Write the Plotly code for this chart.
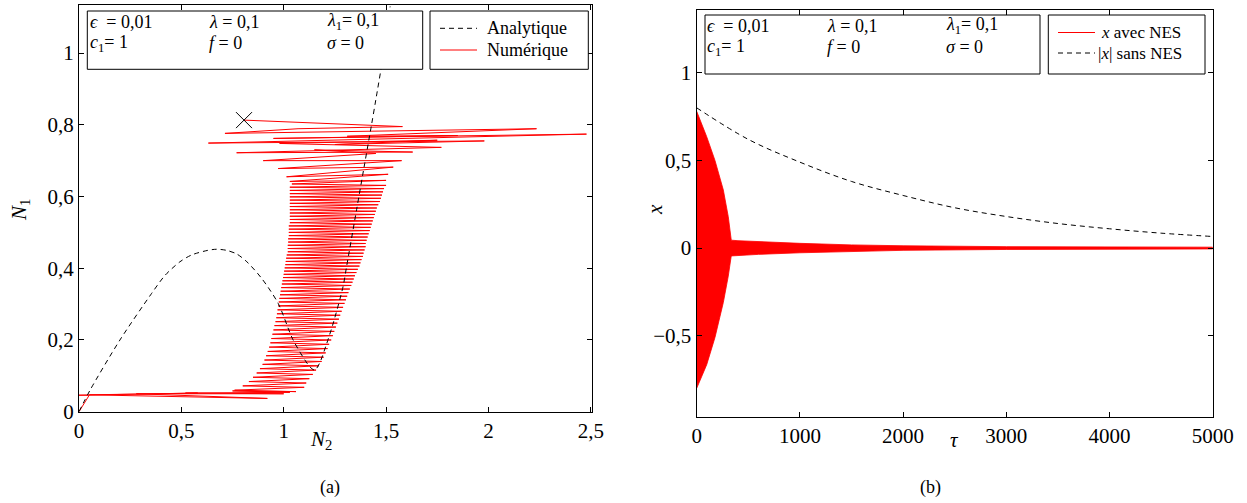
import plotly.graph_objects as go

W, H = 1247, 503
FONT = "'Liberation Serif', 'Times New Roman', serif"

# ---------------- data: panel (a) ----------------
n2_ana = [0.0, 0.054, 0.2, 0.355, 0.42, 0.493, 0.55, 0.63, 0.672, 0.72, 0.77, 0.82,
          0.892, 0.973, 1.046, 1.128, 1.152, 1.175, 1.21, 1.242, 1.29, 1.307, 1.356,
          1.396, 1.429, 1.45, 1.484, 1.52]
n1_ana = [0.0, 0.06, 0.2, 0.33, 0.38, 0.418, 0.437, 0.45, 0.453, 0.45, 0.44, 0.418,
          0.372, 0.302, 0.2, 0.125, 0.116, 0.135, 0.19, 0.247, 0.349, 0.404, 0.563,
          0.693, 0.8, 0.87, 0.986, 1.13]

n2_num = [0.806, 1.58, 1.07, 0.713, 2.235, 1.31, 1.85, 0.95, 2.479, 0.632, 1.98, 1.25,
          1.75, 0.98, 1.77, 0.77, 1.63, 1.15, 1.45, 0.90, 1.576, 0.973, 1.535, 1.014,
          1.51, 1.03, 1.50,
          1.04, 1.50, 1.03, 1.49, 1.03, 1.485, 1.03, 1.48, 1.03, 1.475, 1.03, 1.47,
          1.03, 1.462, 1.03, 1.455, 1.03, 1.45, 1.03, 1.445, 1.03, 1.44, 1.03, 1.435,
          1.03, 1.43, 1.025, 1.425, 1.025, 1.42, 1.025, 1.415, 1.025, 1.41, 1.022, 1.405,
          1.022, 1.40, 1.02, 1.40, 1.02, 1.395, 1.02, 1.39, 1.015, 1.387, 1.012, 1.38,
          1.01, 1.375, 1.008, 1.37, 1.005, 1.362, 1.002, 1.355, 1.0, 1.348, 0.997, 1.342,
          0.994, 1.336, 0.991, 1.33, 0.988, 1.323, 0.985, 1.316, 0.982, 1.31, 0.979, 1.304,
          0.976, 1.297, 0.973, 1.29, 0.97, 1.283, 0.967, 1.276, 0.964, 1.27, 0.96, 1.262,
          0.955, 1.255, 0.95, 1.247, 0.945, 1.24, 0.94, 1.232, 0.935, 1.222, 0.929, 1.214,
          0.922, 1.205, 0.914, 1.195, 0.906, 1.185, 0.897, 1.172, 0.884, 1.158, 0.868, 1.142,
          0.85, 1.125, 0.83, 1.11, 0.80, 1.10, 0.76, 1.06,
          0.75, 1.03, 0.52, 1.00, 0.28, 0.92, 0.05, 0.58, 0.0, 0.05, 0.0]
n1_num = [0.813, 0.795, 0.789, 0.776, 0.789, 0.768, 0.770, 0.762, 0.774, 0.749, 0.755, 0.745,
          0.757, 0.748, 0.737, 0.722, 0.724, 0.730, 0.720, 0.700, 0.700, 0.678, 0.682, 0.655,
          0.662, 0.642, 0.645,
          0.635, 0.631, 0.626, 0.622, 0.617, 0.613, 0.608, 0.604, 0.599, 0.595, 0.590, 0.586,
          0.581, 0.577, 0.572, 0.568, 0.563, 0.559, 0.554, 0.550, 0.545, 0.541, 0.536, 0.532,
          0.527, 0.523, 0.518, 0.514, 0.509, 0.505, 0.500, 0.496, 0.491, 0.487, 0.482, 0.478,
          0.473, 0.469, 0.464, 0.460, 0.455, 0.451, 0.446, 0.442, 0.437, 0.433, 0.428, 0.424,
          0.419, 0.415, 0.410, 0.406, 0.401, 0.397, 0.392, 0.388, 0.383, 0.379, 0.374, 0.370,
          0.365, 0.361, 0.356, 0.352, 0.346, 0.342, 0.336, 0.332, 0.326, 0.322, 0.316, 0.312,
          0.306, 0.302, 0.295, 0.291, 0.284, 0.280, 0.273, 0.269, 0.262, 0.258, 0.251, 0.247,
          0.240, 0.236, 0.228, 0.224, 0.216, 0.212, 0.204, 0.200, 0.192, 0.188, 0.180, 0.176,
          0.168, 0.164, 0.156, 0.152, 0.144, 0.140, 0.132, 0.128, 0.120, 0.116, 0.108, 0.104,
          0.096, 0.092, 0.084, 0.080, 0.072, 0.068, 0.060, 0.056,
          0.058, 0.054, 0.052, 0.050, 0.050, 0.037, 0.047, 0.052, 0.046, 0.046, 0.0]

n2_start = [0.806]
n1_start = [0.813]

# ---------------- data: panel (b) ----------------
tau_env = [0, 97, 177, 258, 306, 329, 335, 400, 600, 1000, 1500, 2000, 3000, 4000, 5000]
x_upper = [0.78, 0.635, 0.50, 0.331, 0.179, 0.065, 0.045, 0.042, 0.036, 0.027, 0.018,
           0.013, 0.008, 0.006, 0.005]
x_lower = [-0.80, -0.665, -0.51, -0.31, -0.16, -0.068, -0.045, -0.042, -0.036, -0.027,
           -0.018, -0.013, -0.008, -0.006, -0.005]

tau_free = [0, 500, 1000, 1500, 2000, 2500, 3000, 3500, 4000, 4500, 5000]
x_free = [0.80, 0.62, 0.49, 0.38, 0.30, 0.23, 0.18, 0.14, 0.11, 0.085, 0.066]

ticks_a_x = [0, 0.5, 1, 1.5, 2, 2.5]
ticks_a_x_txt = ["0", "0,5", "1", "1,5", "2", "2,5"]
ticks_a_y = [0, 0.2, 0.4, 0.6, 0.8, 1]
ticks_a_y_txt = ["0", "0,2", "0,4", "0,6", "0,8", "1"]
ticks_b_x = [0, 1000, 2000, 3000, 4000, 5000]
ticks_b_x_txt = ["0", "1000", "2000", "3000", "4000", "5000"]
ticks_b_y = [-0.5, 0, 0.5, 1]
ticks_b_y_txt = ["\u22120,5", "0", "0,5", "1"]


def fx(p):
    return p / W


def fy(p):
    return 1 - p / H


fig = go.Figure()

fig.add_trace(go.Scatter(x=n2_num, y=n1_num, mode="lines", name="Numérique",
                         line=dict(color="red", width=1),
                         xaxis="x", yaxis="y", showlegend=False))
fig.add_trace(go.Scatter(x=n2_ana, y=n1_ana, mode="lines", name="Analytique",
                         line=dict(color="black", width=1, dash="5px,4px",
                                   shape="spline", smoothing=0.8),
                         xaxis="x", yaxis="y", showlegend=False))
fig.add_trace(go.Scatter(x=n2_start, y=n1_start, mode="markers",
                         marker=dict(symbol="x-thin-open", size=16, color="black",
                                     line=dict(color="black", width=1)),
                         xaxis="x", yaxis="y", showlegend=False))

fig.add_trace(go.Scatter(x=tau_env + tau_env[::-1], y=x_upper + x_lower[::-1],
                         mode="lines", fill="toself", fillcolor="red",
                         line=dict(color="red", width=0.8), name="x avec NES",
                         xaxis="x2", yaxis="y2", showlegend=False))
fig.add_trace(go.Scatter(x=tau_free, y=x_free, mode="lines", name="|x| sans NES",
                         line=dict(color="black", width=1, dash="5px,4px"),
                         line_shape="spline",
                         xaxis="x2", yaxis="y2", showlegend=False))

axis_common = dict(showline=True, linecolor="black", linewidth=1.3, mirror="allticks",
                   ticks="inside", ticklen=5, tickcolor="black", tickwidth=1,
                   showgrid=False, zeroline=False, automargin=False,
                   tickfont=dict(family=FONT, size=21, color="black"))

fig.update_layout(
    width=W, height=H, autosize=False,
    margin=dict(l=0, r=0, t=0, b=0, pad=0, autoexpand=False),
    paper_bgcolor="white", plot_bgcolor="white",
    font=dict(family=FONT, color="black"),
    xaxis=dict(domain=[fx(79), fx(592)], range=[0, 2.506], tickvals=ticks_a_x,
               ticktext=ticks_a_x_txt, anchor="y", **axis_common),
    yaxis=dict(domain=[fy(411.7), fy(5)], range=[0, 1.134], tickvals=ticks_a_y,
               ticktext=ticks_a_y_txt, anchor="x", **axis_common),
    xaxis2=dict(domain=[fx(696.7), fx(1212.7)], range=[0, 5000], tickvals=ticks_b_x,
                ticktext=ticks_b_x_txt, anchor="y2", **axis_common),
    yaxis2=dict(domain=[fy(416.7), fy(10)], range=[-0.962, 1.358], tickvals=ticks_b_y,
                ticktext=ticks_b_y_txt, anchor="x2", **axis_common),
)

shapes = []
# boxes
for (x0, y0, x1, y1) in [(87.3, 11, 422.7, 69.3), (430, 11, 588.3, 69.3),
                         (705, 15, 1040, 74), (1048.3, 15, 1205, 74)]:
    shapes.append(dict(type="rect", xref="paper", yref="paper",
                       x0=fx(x0), x1=fx(x1), y0=fy(y1), y1=fy(y0),
                       line=dict(color="black", width=1), fillcolor="white",
                       layer="above"))
# legend samples
for (x0, x1, yy, col, dash) in [(440, 477, 28.3, "black", "5px,4px"),
                                (440, 477, 50, "red", "solid"),
                                (1058, 1095, 32.5, "red", "solid"),
                                (1058, 1095, 53, "black", "5px,4px")]:
    shapes.append(dict(type="line", xref="paper", yref="paper",
                       x0=fx(x0), x1=fx(x1), y0=fy(yy), y1=fy(yy),
                       line=dict(color=col, width=1, dash=dash), layer="above"))
fig.update_layout(shapes=shapes)

ann = []


def add_text(txt, x, y, size=18, xanchor="left", angle=0):
    ann.append(dict(text=txt, x=fx(x), y=fy(y), xref="paper", yref="paper",
                    xanchor=xanchor, yanchor="middle", showarrow=False, borderpad=0,
                    textangle=angle, font=dict(family=FONT, size=size, color="black")))


params_rows = [["<i>ϵ</i>  = 0,01", "<i>λ</i> = 0,1", "<i>λ</i><sub>1</sub>= 0,1"],
               ["<i>c</i><sub>1</sub>= 1", "<i>f</i> = 0", "<i>σ</i> = 0"]]
for (cols, rows) in [([88.5, 207.5, 326], [21.7, 43.3]), ([706, 826, 944.5], [26, 47.3])]:
    for r, yy in enumerate(rows):
        for c, xx in enumerate(cols):
            add_text(params_rows[r][c], xx, yy)

add_text("Analytique", 486, 28.3)
add_text("Numérique", 486, 50)
add_text("<i>x</i> avec NES", 1100, 32.5, size=17)
add_text("|<i>x</i>| sans NES", 1097, 53, size=17)

add_text("<i>N</i><sub>2</sub>", 321, 440, size=21, xanchor="center")
add_text("<i>N</i><sub>1</sub>", 20, 210, size=21, xanchor="center", angle=-90)
add_text("<i>τ</i>", 955, 440, size=21, xanchor="center")
add_text("<i>x</i>", 655, 210, size=21, xanchor="center", angle=-90)
add_text("(a)", 330, 487, size=18, xanchor="center")
add_text("(b)", 930, 487, size=18, xanchor="center")
fig.update_layout(annotations=ann)

fig.write_html("out.html", config={"displayModeBar": False},
               post_script="document.body.style.margin='0';"
                           "document.body.style.overflow='hidden';")
